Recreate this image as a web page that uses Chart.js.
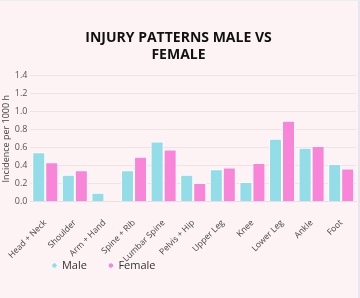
<!DOCTYPE html>
<html>
<head>
<meta charset="utf-8">
<script src="https://cdn.jsdelivr.net/npm/chart.js@4"></script>
<style>
html,body{margin:0;padding:0;background:#fdf3f4;}
#wrap{position:relative;width:358px;height:297px;border-top:1px solid #eeeef2;border-right:2px solid #e6e6ec;}
</style>
</head>
<body>
<div id="wrap"><canvas id="c"></canvas></div>
<script>
const categories = ["Head + Neck","Shoulder","Arm + Hand","Spine + Rib","Lumbar Spine","Pelvis + Hip","Upper Leg","Knee","Lower Leg","Ankle","Foot"];
const maleValues = [0.55,0.30,0.10,0.35,0.67,0.30,0.36,0.22,0.70,0.60,0.42];
const femaleValues = [0.44,0.35,0,0.50,0.58,0.21,0.38,0.43,0.90,0.62,0.37];
const yTicks = [0,0.2,0.4,0.6,0.8,1.0,1.2,1.4];
const titleLines = ["INJURY PATTERNS MALE VS","FEMALE"];

const legendLift = {
  id:'legendLift',
  afterLayout(chart){
    const lg = chart.legend;
    if (lg) { lg.top -= 34; }
  }
};

new Chart(document.getElementById('c'), {
  type: 'bar',
  data: {
    labels: categories,
    datasets: [
      {label:'Male', data: maleValues, backgroundColor:'#93dde9', borderColor:'#ffffff', borderWidth:1, borderSkipped:'bottom'},
      {label:'Female', data: femaleValues, backgroundColor:'#f985d9', borderColor:'#ffffff', borderWidth:1, borderSkipped:'bottom'}
    ]
  },
  plugins:[legendLift],
  options: {
    responsive:true,
    maintainAspectRatio:false,
    animation:false,
    layout:{padding:{top:29,right:2,left:1,bottom:1}},
    categoryPercentage:0.88,
    barPercentage:1.0,
    plugins:{
      title:{display:true,text:titleLines,color:'#111',font:{family:'Open Sans',size:14,weight:'bold'},lineHeight:1.25,padding:{top:0,bottom:12}},
      legend:{position:'bottom',align:'start',fullSize:false,maxHeight:25,labels:{usePointStyle:true,pointStyle:'circle',boxWidth:4,boxHeight:4,padding:22,color:'#333',font:{family:'Open Sans',size:11}}},
      tooltip:{enabled:false}
    },
    scales:{
      x:{
        grid:{display:false},
        border:{color:'#e8dfe1'},
        ticks:{color:'#444',font:{family:'Open Sans',size:8.5},maxRotation:45,minRotation:45,padding:8}
      },
      y:{
        min:0,max:1.4,
        afterBuildTicks:(s)=>{s.ticks=yTicks.map(v=>({value:v}));},
        grid:{color:'#eee3e5',drawTicks:false},
        border:{display:false},
        ticks:{color:'#555',font:{family:'Open Sans',size:9},padding:3,callback:(v)=>Number(v).toFixed(1)},
        title:{display:true,text:'Incidence per 1000 h',color:'#444',font:{family:'Open Sans',size:9},padding:{top:0,bottom:0}}
      }
    }
  }
});
</script>
</body>
</html>
